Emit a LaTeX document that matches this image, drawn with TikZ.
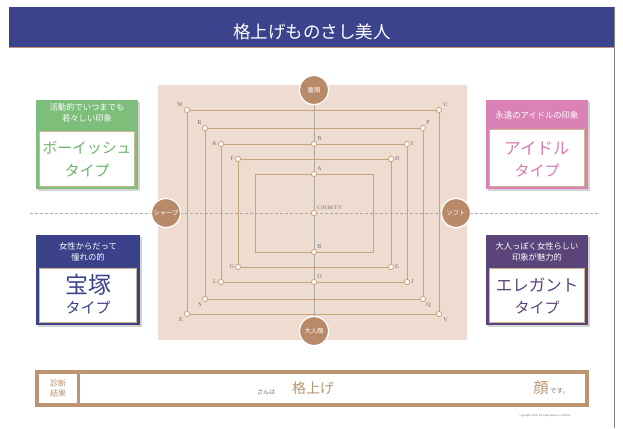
\documentclass[tikz,border=0pt]{standalone}
\usepackage{fontspec}
\newfontfamily\jp{Noto Sans CJK JP}
\newfontfamily\serif{Liberation Serif}
\definecolor{navy}{HTML}{3B438C}
\definecolor{bgbeige}{HTML}{EEDCD1}
\definecolor{rtan}{HTML}{C4A479}
\definecolor{ctan}{HTML}{B98A6A}
\definecolor{lgray}{HTML}{707070}
\definecolor{axgray}{HTML}{A9A9AD}
\definecolor{boyc}{HTML}{7DBE7B}
\definecolor{boyt}{HTML}{6DB46B}
\definecolor{takc}{HTML}{3B428A}
\definecolor{idc}{HTML}{DA82B5}
\definecolor{idt}{HTML}{D77BAF}
\definecolor{elc}{HTML}{5B4479}
\definecolor{frametan}{HTML}{CDB48E}
\definecolor{btan}{HTML}{BC9470}
\definecolor{shadowc}{HTML}{D4D4D4}
\begin{document}
\begin{tikzpicture}[x=1pt,y=-1pt,
  rline/.style={draw=rtan, line width=0.9pt},
  dot/.style={circle, minimum size=5.5pt, inner sep=0pt},
  dotmark/.style={fill=white, draw=rtan, line width=0.8pt},
  lbl/.style={font=\serif\fontsize{6}{6}\selectfont, text=lgray, inner sep=1pt},
  circ/.style={circle, fill=ctan, draw=white, line width=1.2pt, minimum size=29pt, inner sep=0pt, text=white, font=\jp\fontsize{6.3}{7}\selectfont},
  head/.style={text=white, font=\jp\fontsize{8.3}{11}\selectfont, align=center, inner sep=0pt},
  big/.style={font=\jp\fontsize{16.5}{18}\selectfont, inner sep=0pt},
  typ/.style={font=\jp\fontsize{15}{16}\selectfont, inner sep=0pt},
  innerframe/.style={fill=white, draw=frametan, line width=1pt},
  shadowbox/.style={fill=shadowc}
]
\useasboundingbox (0,0) rectangle (623,428);
\fill[white] (0,0) rectangle (623,428);
% title
\fill[navy] (9,7) rectangle (614,47);
\draw[btan, line width=1pt] (9,48) -- (614,48);
\draw[gray, line width=0.8pt] (614,7) -- (614,428);
\node[text=white, font=\jp\fontsize{17.5}{20}\selectfont, inner sep=0pt] (title) at (312,32) {格上げものさし美人};

% background
\fill[bgbeige] (158,85) rectangle (467,340);

% axes
\coordinate (axL) at (30,213);
\coordinate (axR) at (598,213);
\draw[axgray, line width=0.8pt, densely dashed] (axL) -- (axR);

% rectangles corners
\coordinate (i1) at (255,174); \coordinate (i2) at (373,174);
\coordinate (i3) at (373,252); \coordinate (i4) at (255,252);
\node[dot] (W) at (187,110) {}; \node[dot] (U) at (439,110) {};
\node[dot] (V) at (439,314) {}; \node[dot] (X) at (187,314) {};
\node[dot] (R) at (205,128) {}; \node[dot] (P) at (423,128) {};
\node[dot] (Q) at (423,299) {}; \node[dot] (S) at (205,299) {};
\node[dot] (K) at (221,144) {}; \node[dot] (I) at (407,144) {};
\node[dot] (J) at (407,282) {}; \node[dot] (L) at (221,282) {};
\node[dot] (F) at (238,159) {}; \node[dot] (D) at (391,159) {};
\node[dot] (E) at (391,267) {}; \node[dot] (G) at (238,267) {};
\node[dot] (N) at (314,144) {};
\node[dot] (O) at (314,282) {};
\node[dot] (A) at (314,174) {};
\node[dot] (B) at (314,252) {};
\node[dot] (C) at (314,213) {};

% circles
\node[circ] (top) at (314,90) {童顔};
\node[circ] (bot) at (314,331) {大人顔};
\node[circ] (lft) at (166,213) {シャープ};
\node[circ] (rgt) at (456,213) {ソフト};
\draw[axgray, line width=0.8pt] (top) -- (bot);

\draw[rline] (W.center) -- (U.center) -- (V.center) -- (X.center) -- cycle;
\draw[rline] (R.center) -- (P.center) -- (Q.center) -- (S.center) -- cycle;
\draw[rline] (K.center) -- (I.center) -- (J.center) -- (L.center) -- cycle;
\draw[rline] (F.center) -- (D.center) -- (E.center) -- (G.center) -- cycle;
\draw[rline] (i1) -- (i2) -- (i3) -- (i4) -- cycle;

% dots on top
\foreach \n in {W,U,V,X,R,P,Q,S,K,I,J,L,F,D,E,G,N,O,A,B,C}{
  \draw[dotmark] (\n.center) circle (2.6pt);
}

% letter labels
\node[lbl, anchor=south east] at ([xshift=-1pt]W.north west) {W};
\node[lbl, anchor=south east] at (R.north west) {R};
\node[lbl, anchor=east] at (K.west) {K};
\node[lbl, anchor=east] at (F.west) {F};
\node[lbl, anchor=south west] at ([xshift=1pt]U.north east) {U};
\node[lbl, anchor=south west] at (P.north east) {P};
\node[lbl, anchor=west] at (I.east) {I};
\node[lbl, anchor=west] at (D.east) {D};
\node[lbl, anchor=east] at (G.west) {G};
\node[lbl, anchor=east] at (L.west) {L};
\node[lbl, anchor=north east] at (S.south west) {S};
\node[lbl, anchor=north east] at ([xshift=-1pt]X.south west) {X};
\node[lbl, anchor=west] at (E.east) {E};
\node[lbl, anchor=west] at (J.east) {J};
\node[lbl, anchor=north west] at (Q.south east) {Q};
\node[lbl, anchor=north west] at ([xshift=1pt]V.south east) {V};
\node[lbl, anchor=south west] at (N.north east) {N};
\node[lbl, anchor=south west] at (A.north east) {A};
\node[lbl, anchor=south west] at (B.north east) {B};
\node[lbl, anchor=south west] at (O.north east) {O};
\node[lbl, anchor=south west, font=\serif\fontsize{5.3}{6}\selectfont] at (C.north east) {C/H/M/T/Y};

% ---- Boyish box
\fill[shadowbox] (38,102) rectangle (140,191);
\fill[boyc] (36,100) rectangle (138,189);
\draw[innerframe] (39.5,131) rectangle (134.5,186);
\node[head] (boyh) at (87,113) {活動的でいつまでも\\若々しい印象};
\node[font=\jp\fontsize{14.8}{16}\selectfont, inner sep=0pt, text=boyt] (boyb) at (87,148) {ボーイッシュ};
\node[typ, text=boyt] (boyt2) at (87,171) {タイプ};

% ---- Takarazuka box
\fill[shadowbox] (38,237) rectangle (142,327);
\fill[takc] (36,235) rectangle (140,325);
\draw[innerframe] (39.5,268) rectangle (136.5,322);
\node[head] (takh) at (88,252) {女性からだって\\憧れの的};
\node[font=\jp\fontsize{23}{24}\selectfont, inner sep=0pt, text=takc] (takb) at (88,285) {宝塚};
\node[typ, text=takc] (takt) at (88,308) {タイプ};

% ---- Idol box
\fill[shadowbox] (488,102) rectangle (590,191);
\fill[idc] (486,100) rectangle (588,189);
\draw[innerframe] (489.5,129) rectangle (584.5,186);
\node[head] (idh) at (537,115) {永遠のアイドルの印象};
\node[big, text=idt] (idb) at (537,148) {アイドル};
\node[typ, text=idt] (idt2) at (537,171) {タイプ};

% ---- Elegant box
\fill[shadowbox] (488,237) rectangle (590,327);
\fill[elc] (486,235) rectangle (588,325);
\draw[innerframe] (489.5,268) rectangle (584.5,322);
\node[head] (elh) at (537,252) {大人っぽく女性らしい\\印象が魅力的};
\node[big, text=elc] (elb) at (537,285) {エレガント};
\node[typ, text=elc] (elt) at (537,308) {タイプ};

% ---- result bar
\draw[btan, line width=4pt, fill=white] (37,372) rectangle (587,405);
\draw[btan, line width=3pt] (78,372) -- (78,405);
\node[font=\jp\fontsize{8}{10}\selectfont, text=btan, align=center, inner sep=0pt] (res) at (58,388.5) {診断\\結果};
\node[font=\jp\fontsize{6}{7}\selectfont, text=lgray, inner sep=0pt] (san) at (266,392) {さんは};
\node[font=\jp\fontsize{14}{15}\selectfont, text=btan, inner sep=0pt] (kaku) at (313,388) {格上げ};
\node[font=\jp\fontsize{15}{16}\selectfont, text=btan, inner sep=0pt] (kao) at (541,388) {顔};
\node[font=\jp\fontsize{6.5}{7}\selectfont, text=lgray, inner sep=0pt, anchor=west] (desu) at (550,391) {です。};
\node[font=\serif\fontsize{2.8}{3}\selectfont, text=lgray, inner sep=0pt] (copy) at (545,416) {copyright©2016 All Right Reserved./180925};
\end{tikzpicture}
\end{document}
